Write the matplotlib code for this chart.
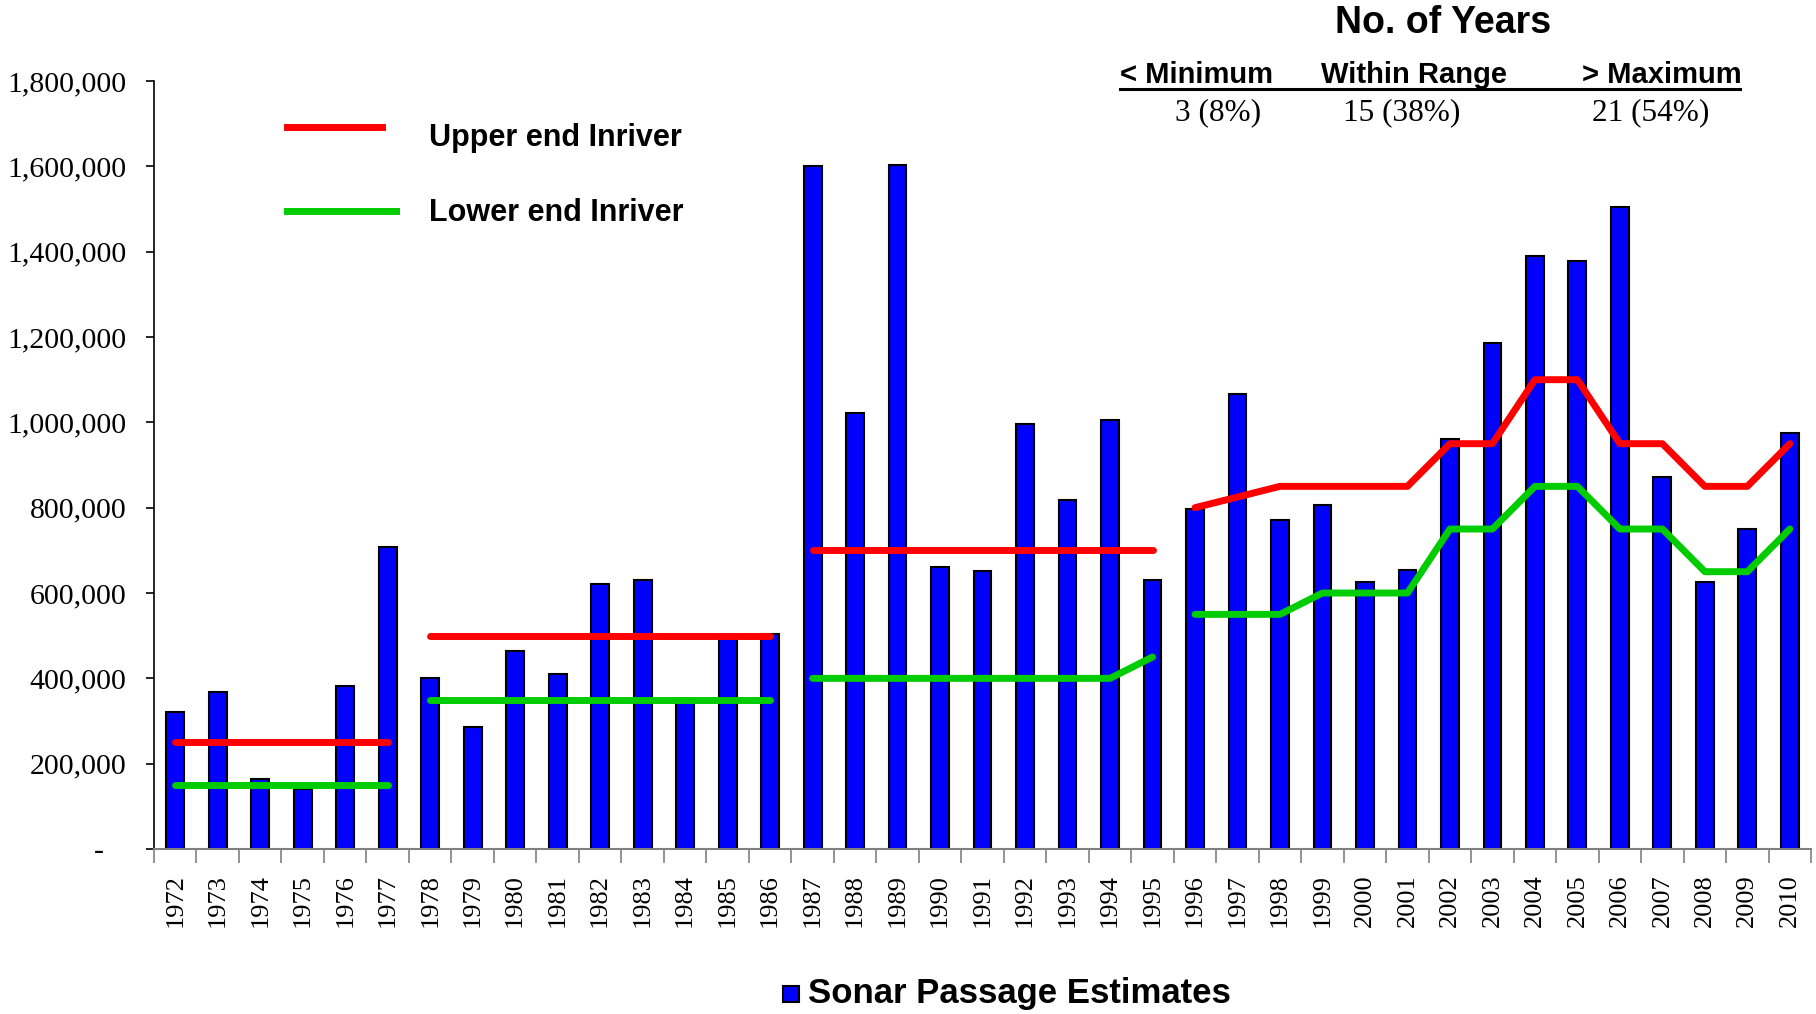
import numpy as np
import matplotlib
matplotlib.use("Agg")
import matplotlib.pyplot as plt
from matplotlib.lines import Line2D
from matplotlib.patches import Rectangle

years = list(range(1972, 2011))
sonar = [320000, 368000, 163000, 140000, 381000, 708000, 401000, 286000, 465000, 410000,
         622000, 630000, 345000, 497000, 503000, 1600000, 1023000, 1603000, 662000, 651000,
         997000, 817000, 1005000, 630000, 797000, 1067000, 771000, 806000, 627000, 654000,
         960000, 1186000, 1390000, 1379000, 1504000, 872000, 627000, 749000, 975000]
upper = [250000]*6 + [500000]*9 + [700000]*9 + [800000, 825000, 850000, 850000, 850000, 850000,
         950000, 950000, 1100000, 1100000, 950000, 950000, 850000, 850000, 950000]
lower = [150000]*6 + [350000]*9 + [400000]*8 + [450000] + [550000, 550000, 550000, 600000, 600000, 600000,
         750000, 750000, 850000, 850000, 750000, 750000, 650000, 650000, 750000]
period = [0]*6 + [1]*9 + [2]*9 + [3]*15

hdr_labels = ["< Minimum", "Within Range", "> Maximum"]
hdr_values = ["3 (8%)", "15 (38%)", "21 (54%)"]

SANS = "Liberation Sans"
SERIF = "Liberation Serif"

fig = plt.figure(figsize=(18.16, 10.14), dpi=100)
ax = fig.add_axes([0.0848, 0.1627, 0.9125, 0.7574])

x = np.arange(len(years))
ax.bar(x, sonar, width=0.42, color="#0000FF", edgecolor="black", linewidth=1.5, zorder=2)

upper = np.array(upper, dtype=float)
lower = np.array(lower, dtype=float)
period = np.array(period)
for p in np.unique(period):
    m = period == p
    ax.plot(x[m], upper[m], color="#FF0000", lw=5, solid_capstyle="round",
            solid_joinstyle="round", zorder=3)
    ax.plot(x[m], lower[m], color="#00CC00", lw=5, solid_capstyle="round",
            solid_joinstyle="round", zorder=3)

ax.set_xlim(-0.5, len(years) - 0.5)
ax.set_ylim(0, 1800000)
ax.set_xticks(x)
ax.set_xticklabels([str(y) for y in years], rotation=90, fontfamily=SERIF, fontsize=19)
ax.set_xticks(np.arange(-0.5, len(years)), minor=True)
ax.tick_params(axis="x", which="major", length=0, pad=18)
ax.tick_params(axis="x", which="minor", length=10, width=1.2, color="#808080", direction="out")

yt = np.arange(0, 1800001, 200000)
ax.set_yticks(yt)
ax.set_yticklabels(["-   " if v == 0 else f"{v:,}" for v in yt], fontfamily=SERIF, fontsize=21.5)
ax.tick_params(axis="y", length=6, width=1.2, direction="out", pad=14)

for s in ["top", "right"]:
    ax.spines[s].set_visible(False)
ax.spines["left"].set_color("black")
ax.spines["left"].set_linewidth(1.2)
ax.spines["bottom"].set_color("#808080")
ax.spines["bottom"].set_linewidth(1.5)

# Line legend
fig.add_artist(Line2D([0.158, 0.2105], [0.8748, 0.8748], color="#FF0000", lw=5,
                      transform=fig.transFigure))
fig.text(0.236, 0.864, "Upper end Inriver", fontfamily=SANS, fontweight="bold",
         fontsize=22, va="center", ha="left")
fig.add_artist(Line2D([0.158, 0.218], [0.792, 0.792], color="#00CC00", lw=5,
                      transform=fig.transFigure))
fig.text(0.236, 0.790, "Lower end Inriver", fontfamily=SANS, fontweight="bold",
         fontsize=22, va="center", ha="left")

# Table of years
fig.text(0.7946, 0.977, "No. of Years", fontfamily=SANS, fontweight="bold",
         fontsize=27, ha="center", va="center")
hx = [0.6166, 0.7276, 0.871]
for xx, lab in zip(hx, hdr_labels):
    fig.text(xx, 0.9258, lab, fontfamily=SANS, fontweight="bold", fontsize=21,
             ha="left", va="center")
fig.add_artist(Line2D([0.6166, 0.9584], [0.912, 0.912], color="black", lw=2.2,
                      transform=fig.transFigure))
vx = [0.6708, 0.772, 0.9087]
for xx, lab in zip(vx, hdr_values):
    fig.text(xx, 0.889, lab, fontfamily=SERIF, fontsize=22.5, ha="center", va="center")

# Bottom legend
fig.add_artist(Rectangle((0.4312, 0.0122), 0.0088, 0.0158, facecolor="#0000FF",
                         edgecolor="black", lw=1.5, transform=fig.transFigure))
fig.text(0.445, 0.0201, "Sonar Passage Estimates", fontfamily=SANS, fontweight="bold",
         fontsize=25, ha="left", va="center")

fig.savefig("out.png", dpi=100)
